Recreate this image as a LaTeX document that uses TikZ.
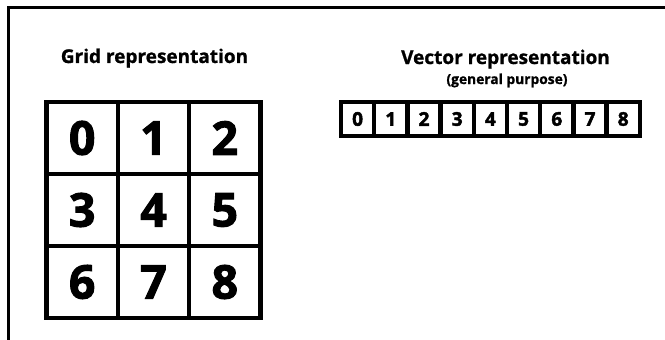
\documentclass[tikz,border=0pt]{standalone}
\usepackage{fontspec}
\setmainfont{Open Sans}
\newfontfamily\heavyfont{Open Sans Bold}[FakeBold=2.2]
\newfontfamily\titlefont{Open Sans Bold}[FakeBold=1.0]
\begin{document}
\begin{tikzpicture}[x=1pt,y=-1pt,
  frame/.style={line width=2.5pt,line join=miter},
  gridcell/.style={draw,line width=4.5pt,minimum width=71.3pt,minimum height=72pt,inner sep=0pt,
    font=\fontsize{46.5}{46.5}\heavyfont},
  veccell/.style={draw,line width=4.5pt,minimum width=33.2pt,minimum height=34pt,inner sep=0pt,
    font=\fontsize{19}{19}\heavyfont},
  title/.style={anchor=base,inner sep=0pt,font=\fontsize{19}{19}\titlefont},
  subtitle/.style={anchor=base,inner sep=0pt,font=\fontsize{13.8}{13.8}\titlefont}]
\useasboundingbox (0,0) rectangle (665,340);
\begin{scope}
\clip (0,0) rectangle (665,340);
\coordinate (fa) at (8.5,345);
\coordinate (fb) at (8.5,7.5);
\coordinate (fc) at (670,7.5);
\draw[frame] (fa) -- (fb) -- (fc);
\end{scope}
% titles
\node[title] (tg) at (154.5,63) {Grid representation};
\node[title] (tv) at (505.5,64) {Vector representation};
\node[subtitle] (tp) at (507,84) {(general purpose)};
% grid
\foreach \i in {0,...,8}{
  \pgfmathtruncatemacro{\c}{mod(\i,3)}
  \pgfmathtruncatemacro{\r}{div(\i,3)}
  \node[gridcell] (g\i) at ({46.5+71.33*(\c+0.5)},{102+72*(\r+0.5)}) {\i};
}
% vector
\foreach \i in {0,...,8}{
  \node[veccell] (v\i) at ({341+33.2*(\i+0.5)},119) {\i};
}
\end{tikzpicture}
\end{document}
